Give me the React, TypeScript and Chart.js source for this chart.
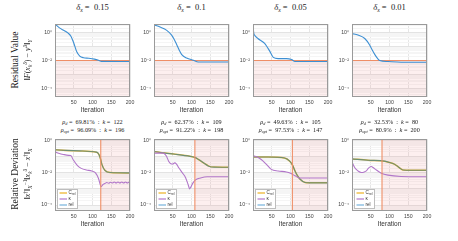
import React, { useEffect, useRef } from 'react';
import { Chart, registerables } from 'chart.js';
Chart.register(...registerables);

// ---------------- data ----------------
const deltaLabels = ['0.15', '0.1', '0.05', '0.01'];
const thresholdValues = [1.0e-2, 1.0e-2, 1.0e-2, 1.0e-2];

// residual curves (top row)
const resIter015 = [0, 12, 25, 35, 42, 50, 58, 66, 76, 90, 105, 116, 124, 200];
const resVal015 = [3.89, 2.09, 1.32, 0.891, 0.562, 0.178, 4.17e-2, 2.09e-2, 1.58e-2, 1.45e-2, 1.26e-2, 1.05e-2, 8.71e-3, 8.51e-3];
const resIter010 = [0, 16, 34, 47, 54, 61, 68, 74, 87, 105, 118, 200];
const resVal010 = [3.47, 2.4, 1.41, 0.646, 0.316, 0.129, 5.01e-2, 2.63e-2, 1.51e-2, 1.05e-2, 7.94e-3, 7.94e-3];
const resIter005 = [0, 2, 4, 13, 31, 45, 54, 67, 89, 103, 112, 200];
const resVal005 = [3.5, 0.9, 0.65, 0.37, 0.166, 4.47e-2, 1.7e-2, 1.38e-2, 1.38e-2, 1.17e-2, 8.5e-3, 8.5e-3];
const resIter001 = [0, 16, 34, 47, 54, 61, 68, 74, 96, 131, 200];
const resVal001 = [0.83, 0.646, 0.37, 0.129, 5.62e-2, 2.63e-2, 1.41e-2, 1.0e-2, 8.51e-3, 7.59e-3, 7.59e-3];

// relative deviation curves (bottom row)
const crelIter015 = [0, 30, 67, 111, 117, 121, 125, 133, 147, 200];
const crelVal015 = [2.75e-1, 2.51e-1, 2.34e-1, 1.95e-1, 1.41e-1, 7.94e-2, 3.39e-2, 1.45e-2, 1.05e-2, 1.0e-2];
const kappaIter015 = [0, 22, 36, 42, 49, 60, 70, 84, 98, 108, 116, 121, 123, 128, 133, 138, 143, 148, 153, 158, 163, 168, 173, 178, 183, 188, 193, 198, 200];
const kappaVal015 = [1.95e-1, 1.41e-1, 1.23e-1, 1.2e-1, 6.31e-2, 2.82e-2, 1.91e-2, 1.51e-2, 1.32e-2, 1.0e-2, 4.47e-3, 1.78e-3, 1.41e-3, 1.91e-3, 2.19e-3, 2.51e-3, 2.29e-3, 2.63e-3, 2.34e-3, 2.69e-3, 2.34e-3, 2.69e-3, 2.34e-3, 2.69e-3, 2.34e-3, 2.69e-3, 2.34e-3, 2.69e-3, 2.6e-3];

const crelIter010 = [0, 30, 52, 96, 110, 119, 132, 146, 160, 200];
const crelVal010 = [2.14e-1, 1.7e-1, 1.48e-1, 1.07e-1, 8.91e-2, 6.76e-2, 4.27e-2, 2.63e-2, 2.29e-2, 2.24e-2];
const kappaIter010 = [0, 25, 33, 39, 45, 50, 55, 60, 66, 75, 84, 92, 95, 99, 104, 110, 124, 142, 200];
const kappaVal010 = [1.7e-1, 1.7e-1, 1.12e-1, 5.37e-2, 3.72e-2, 3.55e-2, 4.17e-2, 3.55e-2, 2.09e-2, 1.05e-2, 5.25e-3, 1.58e-3, 1.02e-3, 1.41e-3, 2.4e-3, 3.55e-3, 4.79e-3, 5.75e-3, 5.75e-3];

const crelIter005 = [0, 40, 84, 98, 105, 112, 118, 125, 139, 150, 200];
const crelVal005 = [9.77e-2, 9.77e-2, 8.51e-2, 5.37e-2, 3.16e-2, 1.32e-2, 7.08e-3, 4.17e-3, 2.51e-3, 2.4e-3, 2.4e-3];
const kappaIter005 = [0, 10, 22, 35, 49, 67, 89, 100, 112, 125, 200];
const kappaVal005 = [1.17e-1, 1.0e-1, 6.76e-2, 3.55e-2, 1.66e-2, 1.32e-2, 1.15e-2, 9.55e-3, 6.61e-3, 4.79e-3, 4.79e-3];

const crelIter001 = [0, 43, 87, 100, 114, 125, 136, 158, 200];
const crelVal001 = [7.41e-2, 6.17e-2, 5.37e-2, 4.47e-2, 3.39e-2, 2.24e-2, 1.51e-2, 1.45e-2, 1.45e-2];
const kappaIter001 = [0, 8, 16, 25, 33, 38, 44, 51, 58, 65, 78, 96, 131, 200];
const kappaVal001 = [4.68e-2, 2.0e-2, 1.32e-2, 1.05e-2, 1.15e-2, 1.32e-2, 2.0e-2, 2.51e-2, 2.0e-2, 1.51e-2, 9.55e-3, 7.24e-3, 6.03e-3, 5.75e-3];

const rhoD = ['69.81', '62.37', '49.63', '32.53'];
const kD = [122, 109, 105, 80];
const rhoOpt = ['96.09', '91.22', '97.53', '80.9'];
const kOpt = [196, 198, 147, 200];

const xTickValues = [50, 100, 150, 200];
const yTickValues = [1, 1e-2, 1e-4];
const yTickLabels = ['10\u2070', '10\u207B\u00B2', '10\u207B\u2074'];
const legendMain = ['C', '\u03BA', 'rel'];
const legendSub = ['rel', '', ''];

const resIters = [resIter015, resIter010, resIter005, resIter001];
const resVals = [resVal015, resVal010, resVal005, resVal001];
const crelIters = [crelIter015, crelIter010, crelIter005, crelIter001];
const crelVals = [crelVal015, crelVal010, crelVal005, crelVal001];
const kappaIters = [kappaIter015, kappaIter010, kappaIter005, kappaIter001];
const kappaVals = [kappaVal015, kappaVal010, kappaVal005, kappaVal001];

// ---------------- style / layout ----------------
const TOP_MIN = 2.57e-5, TOP_MAX = 3.89;
const BOT_MIN = 4.27e-5, BOT_MAX = 1.26;
const PLOT_LEFTS = [55, 154, 253, 352];
const PLOT_W = 75;
const YW = 22, PT = 4, PR = 7, XH = 17;
const TOP_ROW = { plotTop: 22, plotH: 75 };
const BOT_ROW = { plotTop: 137, plotH: 74 };

const BLUE = '#3d8fd3';
const YELLOW = '#EDB120';
const PURPLE = '#b176c9';
const REL = 'rgba(0,114,189,0.55)';
const ORANGE = '#ef8e66';
const PINK = 'rgba(235,120,120,0.12)';
const SANS = '"Liberation Sans", "DejaVu Sans", sans-serif';
const SERIF = '"Liberation Serif", "DejaVu Serif", serif';

const minorGrid = (() => {
  const out: number[] = [];
  for (let e = -5; e <= 0; e++) for (let m = 1; m <= 9; m++) out.push(m * Math.pow(10, e));
  return out;
})();

const isDecade = (v: number) => Math.abs(Math.log10(v) - Math.round(Math.log10(v))) < 1e-6;

const boxPlugin = {
  id: 'axesBox',
  afterDraw(chart: any) {
    const { ctx, chartArea: a } = chart;
    ctx.save();
    ctx.strokeStyle = '#9a9a9a';
    ctx.lineWidth = 1;
    ctx.strokeRect(Math.round(a.left) + 0.5, Math.round(a.top) + 0.5, Math.round(a.right - a.left) - 1, Math.round(a.bottom - a.top) - 1);
    ctx.restore();
  },
};

const legendPlugin = {
  id: 'boxLegend',
  afterDatasetsDraw(chart: any, _args: any, opts: any) {
    if (!opts || !opts.items) return;
    const { ctx, chartArea: a } = chart;
    const x0 = Math.round(a.left) + 2.5, y0 = Math.round(a.bottom) - 21.5, w = 20, h = 19;
    ctx.save();
    ctx.fillStyle = '#ffffff';
    ctx.fillRect(x0, y0, w, h);
    ctx.strokeStyle = '#bdbdbd';
    ctx.lineWidth = 1;
    ctx.strokeRect(x0, y0, w, h);
    opts.items.forEach((it: any, i: number) => {
      const yy = y0 + 3.5 + i * 6;
      ctx.strokeStyle = it.color;
      ctx.lineWidth = 1.2;
      ctx.beginPath();
      ctx.moveTo(x0 + 2, yy);
      ctx.lineTo(x0 + 9.5, yy);
      ctx.stroke();
      ctx.fillStyle = '#333';
      ctx.textBaseline = 'middle';
      ctx.font = `4.6px ${SANS}`;
      ctx.fillText(it.main, x0 + 11, yy);
      if (it.sub) {
        const mw = ctx.measureText(it.main).width;
        ctx.font = `3.2px ${SANS}`;
        ctx.fillText(it.sub, x0 + 11 + mw, yy + 1.4);
      }
    });
    ctx.restore();
  },
};

function makeOptions(yMin: number, yMax: number, legendItems: any) {
  return {
    animation: false,
    responsive: false,
    maintainAspectRatio: false,
    layout: { padding: { top: PT, right: PR, left: 0, bottom: 0 }, autoPadding: false },
    elements: { point: { radius: 0 }, line: { borderCapStyle: 'butt' } },
    plugins: {
      legend: { display: false },
      tooltip: { enabled: false },
      boxLegend: { items: legendItems },
    },
    scales: {
      x: {
        type: 'linear',
        min: 0,
        max: 200,
        afterBuildTicks: (s: any) => { s.ticks = xTickValues.map((v) => ({ value: v })); },
        afterFit: (s: any) => { s.height = XH; },
        ticks: { autoSkip: false, maxRotation: 0, padding: 2, color: '#444', font: { family: SANS, size: 5.2 }, callback: (v: any) => String(v) },
        grid: { color: '#e6e6e6', drawTicks: false, lineWidth: 1 },
        border: { display: false },
        title: { display: true, text: 'Iteration', color: '#333', font: { family: SANS, size: 6.5 }, padding: { top: 0, bottom: 0 } },
      },
      y: {
        type: 'logarithmic',
        min: yMin,
        max: yMax,
        afterBuildTicks: (s: any) => { s.ticks = minorGrid.filter((v) => v >= yMin && v <= yMax).map((v) => ({ value: v })); },
        afterFit: (s: any) => { s.width = YW; },
        ticks: {
          autoSkip: false,
          padding: 3,
          color: '#444',
          font: { family: SANS, size: 5.2 },
          callback: (v: any) => {
            const i = yTickValues.findIndex((t) => Math.abs(t - v) / t < 1e-6);
            return i >= 0 ? yTickLabels[i] : '';
          },
        },
        grid: {
          drawTicks: false,
          lineWidth: 1,
          color: (ctx: any) => (ctx.tick && isDecade(ctx.tick.value) ? '#e3e3e3' : '#f5f5f5'),
        },
        border: { display: false },
      },
    },
  };
}

function topConfig(col: number) {
  const pts = resIters[col].map((x, i) => ({ x, y: resVals[col][i] }));
  const thr = thresholdValues[col];
  return {
    type: 'line',
    data: {
      datasets: [
        { data: pts, borderColor: BLUE, borderWidth: 1.1, fill: false, cubicInterpolationMode: 'monotone', order: 0 },
        { data: [{ x: 0, y: thr }, { x: 200, y: thr }], borderColor: ORANGE, borderWidth: 1.1, fill: 'start', backgroundColor: PINK, order: 5 },
      ],
    },
    options: makeOptions(TOP_MIN, TOP_MAX, null),
    plugins: [boxPlugin],
  };
}

function bottomConfig(col: number) {
  const crel = crelIters[col].map((x, i) => ({ x, y: crelVals[col][i] }));
  const kap = kappaIters[col].map((x, i) => ({ x, y: kappaVals[col][i] }));
  const k = kD[col];
  const items = [
    { color: YELLOW, main: legendMain[0], sub: legendSub[0] },
    { color: PURPLE, main: legendMain[1], sub: legendSub[1] },
    { color: REL, main: legendMain[2], sub: legendSub[2] },
  ];
  return {
    type: 'line',
    data: {
      datasets: [
        { data: [{ x: k, y: BOT_MIN }, { x: k, y: BOT_MAX }], borderColor: ORANGE, borderWidth: 1.1, fill: false, order: 0 },
        { data: kap, borderColor: PURPLE, borderWidth: 1.1, fill: false, cubicInterpolationMode: 'monotone', order: 1 },
        { data: crel, borderColor: REL, borderWidth: 1.1, fill: false, cubicInterpolationMode: 'monotone', order: 2 },
        { data: crel, borderColor: YELLOW, borderWidth: 1.5, fill: false, cubicInterpolationMode: 'monotone', order: 3 },
        { data: [{ x: k, y: BOT_MAX }, { x: 200, y: BOT_MAX }], borderWidth: 0, borderColor: 'rgba(0,0,0,0)', fill: 'start', backgroundColor: PINK, order: 9 },
      ],
    },
    options: makeOptions(BOT_MIN, BOT_MAX, items),
    plugins: [boxPlugin, legendPlugin],
  };
}

function ChartPanel({ left, top, width, height, build }: { left: number; top: number; width: number; height: number; build: () => any }) {
  const ref = useRef<HTMLCanvasElement | null>(null);
  useEffect(() => {
    if (!ref.current) return;
    const chart = new Chart(ref.current, build());
    return () => chart.destroy();
  }, []);
  return <canvas ref={ref} width={width} height={height} style={{ position: 'absolute', left, top, width, height }} />;
}

const Sub = ({ children }: any) => <span style={{ fontSize: '68%', verticalAlign: '-0.3em', lineHeight: 0 }}>{children}</span>;
const Sup = ({ children }: any) => <span style={{ fontSize: '68%', verticalAlign: '0.5em', lineHeight: 0 }}>{children}</span>;

function Rotated({ cx, cy, size, children, italic }: any) {
  const W = 110, H = 14;
  return (
    <div
      style={{
        position: 'absolute', left: cx - W / 2, top: cy - H / 2, width: W, height: H, lineHeight: `${H}px`,
        transform: 'rotate(-90deg)', textAlign: 'center', whiteSpace: 'nowrap', fontFamily: SERIF, fontSize: size,
        color: '#222', fontStyle: italic ? 'italic' : 'normal',
      }}
    >
      {children}
    </div>
  );
}

export default function App() {
  const canvasW = YW + PLOT_W + PR;
  const topH = PT + TOP_ROW.plotH + XH;
  const botH = PT + BOT_ROW.plotH + XH;
  const topCenter = TOP_ROW.plotTop + TOP_ROW.plotH / 2;
  const botCenter = BOT_ROW.plotTop + BOT_ROW.plotH / 2;
  return (
    <div style={{ position: 'fixed', left: 0, top: 0, width: 458, height: 241, background: '#fff', overflow: 'hidden' }}>
      {PLOT_LEFTS.map((pl, c) => (
        <React.Fragment key={c}>
          <div style={{ position: 'absolute', left: pl + PLOT_W / 2 - 40, top: 1, width: 80, textAlign: 'center', fontFamily: SERIF, fontSize: 8.5, lineHeight: '12px', color: '#222', whiteSpace: 'nowrap' }}>
            <i>{'\u03B4'}</i><Sub><i>x</i></Sub> = &nbsp;{deltaLabels[c]}
          </div>
          <ChartPanel left={pl - YW} top={TOP_ROW.plotTop - PT} width={canvasW} height={topH} build={() => topConfig(c)} />
          <div style={{ position: 'absolute', left: pl + PLOT_W / 2 - 45, top: 117.5, width: 90, textAlign: 'center', fontFamily: SERIF, fontSize: 6.2, lineHeight: '8px', color: '#222', whiteSpace: 'nowrap' }}>
            <div><i>{'\u03C1'}</i><Sub><i>d</i></Sub> = &nbsp;{rhoD[c]}% &nbsp;: &nbsp;<i>k</i> = &nbsp;{kD[c]}</div>
            <div><i>{'\u03C1'}</i><Sub><i>opt</i></Sub> = &nbsp;{rhoOpt[c]}% &nbsp;: &nbsp;<i>k</i> = &nbsp;{kOpt[c]}</div>
          </div>
          <ChartPanel left={pl - YW} top={BOT_ROW.plotTop - PT} width={canvasW} height={botH} build={() => bottomConfig(c)} />
        </React.Fragment>
      ))}
      <Rotated cx={15} cy={topCenter} size={9.5}>Residual Value</Rotated>
      <Rotated cx={27.5} cy={topCenter} size={8}>
        {'\u2016'}<i>F</i>(<i>x</i><Sub><i>k</i></Sub><Sup><i>{'\u03B4'}</i></Sup>) {'\u2212'} <i>y</i><Sup><i>{'\u03B4'}</i></Sup>{'\u2016'}<Sub><i>Y</i></Sub>
      </Rotated>
      <Rotated cx={15} cy={botCenter} size={9.5}>Relative Deviation</Rotated>
      <Rotated cx={27.5} cy={botCenter} size={8}>
        {'\u2016'}<i>x</i><Sup>{'\u2020'}</Sup>{'\u2016'}<Sub><i>X</i></Sub><Sup>{'\u2212'}1</Sup>{'\u2016'}<i>x</i><Sub><i>k</i></Sub><Sup><i>{'\u03B4'}</i></Sup> {'\u2212'} <i>x</i><Sup>{'\u2020'}</Sup>{'\u2016'}<Sub><i>X</i></Sub>
      </Rotated>
    </div>
  );
}
